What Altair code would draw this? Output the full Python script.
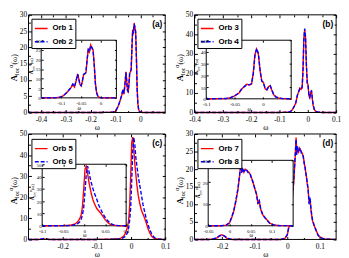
import altair as alt
import pandas as pd

# ---------------- data ----------------
X_A = [-0.45, -0.3, -0.15, -0.11, -0.1, -0.095, -0.09, -0.085, -0.08, -0.075, -0.07, -0.066,
       -0.062, -0.058, -0.055, -0.052, -0.049, -0.046, -0.043, -0.04, -0.037, -0.034, -0.031,
       -0.028, -0.025, -0.022, -0.019, -0.016, -0.013, -0.01, -0.007, -0.004, 0.0, 0.01, 0.04, 0.1]
ORB1 = [0, 0, 0, 0.1, 0.4, 1.0, 1.8, 2.8, 4.0, 5.2, 7.0, 5.6, 8.5, 12.5, 10.0, 7.0, 6.2, 8.5,
        12.0, 12.5, 13.0, 19.5, 25.5, 24.0, 27.5, 26.0, 25.0, 17.5, 7.5, 2.8, 1.0, 0.3, 0.1, 0, 0, 0]
ORB2 = [0, 0, 0, 0.1, 0.5, 1.1, 1.9, 2.9, 4.1, 5.4, 7.2, 5.9, 8.8, 12.3, 9.7, 6.8, 6.4, 8.8,
        12.2, 12.6, 13.3, 20.0, 25.2, 24.4, 27.2, 26.3, 24.6, 17.0, 7.2, 2.6, 0.9, 0.3, 0.1, 0, 0, 0]

X_B = [-0.4, -0.2, -0.1, -0.065, -0.058, -0.052, -0.047, -0.042, -0.037, -0.032, -0.028, -0.024,
       -0.02, -0.017, -0.014, -0.011, -0.008, -0.005, -0.002, 0.001, 0.004, 0.007, 0.01, 0.013,
       0.016, 0.019, 0.023, 0.028, 0.035, 0.05, 0.07, 0.1]
ORB3 = [0, 0, 0, 0.2, 0.8, 2.0, 3.5, 5.0, 8.5, 11.0, 12.5, 11.8, 12.5, 22.0, 38.0, 42.5, 38.0,
        24.0, 15.5, 14.0, 8.5, 7.5, 10.5, 11.0, 7.0, 3.5, 1.5, 0.6, 0.2, 0, 0, 0]
ORB4 = [0, 0, 0, 0.3, 0.9, 2.2, 3.3, 5.3, 8.8, 10.6, 12.2, 12.0, 13.0, 21.0, 37.0, 43.0, 39.0,
        25.0, 15.0, 13.6, 8.8, 7.8, 10.0, 11.3, 7.4, 3.8, 1.6, 0.7, 0.2, 0, 0, 0]

X_C = [-0.3, -0.27, -0.255, -0.24, -0.2, -0.1, -0.04, -0.03, -0.022, -0.016, -0.011, -0.007,
       -0.004, -0.001, 0.002, 0.005, 0.008, 0.011, 0.014, 0.017, 0.021, 0.025, 0.03, 0.035,
       0.04, 0.045, 0.05, 0.055, 0.06, 0.065, 0.07, 0.08, 0.1]
ORB5 = [0, 0, 0.2, 0, 0, 0, 0.2, 0.6, 1.5, 3.0, 5.5, 9.0, 16.0, 30.0, 46.0, 48.5, 43.0, 36.0,
        31.0, 26.0, 21.0, 17.5, 14.0, 12.0, 10.0, 7.5, 5.0, 3.0, 1.6, 0.8, 0.4, 0.1, 0]
ORB6 = [0, 0, 0.5, 0, 0, 0, 0.1, 0.3, 0.8, 1.6, 3.0, 5.5, 9.0, 15.0, 28.0, 42.0, 48.5, 45.0,
        39.0, 35.0, 30.0, 26.0, 21.5, 16.5, 13.0, 9.5, 6.8, 4.5, 2.8, 1.5, 0.7, 0.2, 0]

X_D = [-0.285, -0.24, -0.225, -0.215, -0.208, -0.2, -0.193, -0.185, -0.17, -0.1, -0.05, -0.02,
       -0.008, 0.0, 0.005, 0.01, 0.015, 0.02, 0.024, 0.027, 0.029, 0.031, 0.034, 0.037, 0.04,
       0.043, 0.046, 0.049, 0.052, 0.055, 0.058, 0.061, 0.064, 0.067, 0.07, 0.073, 0.077, 0.082,
       0.088, 0.095, 0.105, 0.115, 0.15]
ORB7 = [0, 0, 0.1, 0.5, 1.1, 1.3, 0.9, 0.3, 0, 0, 0, 0, 0.2, 1.2, 3.5, 6.5, 11.0, 16.5, 23.0,
        29.0, 25.0, 26.0, 24.5, 26.0, 25.5, 25.0, 24.5, 23.5, 22.0, 20.0, 18.5, 16.0, 14.5, 10.5,
        11.5, 8.0, 5.5, 4.0, 2.8, 1.2, 0.4, 0.1, 0]
ORB8 = [0, 0, 0.2, 0.6, 1.0, 1.2, 1.0, 0.4, 0, 0, 0, 0, 0.3, 1.4, 3.8, 6.8, 11.5, 17.0, 23.5,
        28.5, 24.0, 26.5, 25.0, 25.5, 26.0, 24.6, 24.0, 23.8, 21.5, 20.5, 18.0, 16.5, 14.0, 10.0,
        12.0, 8.5, 5.8, 4.2, 2.6, 1.1, 0.4, 0.1, 0]

PANEL_X = [X_A, X_B, X_C, X_D]
PANEL_Y = [[ORB1, ORB2], [ORB3, ORB4], [ORB5, ORB6], [ORB7, ORB8]]
ORB_NAMES = [["Orb 1", "Orb 2"], ["Orb 3", "Orb 4"], ["Orb 5", "Orb 6"], ["Orb 7", "Orb 8"]]
PANEL_LABELS = ["(a)", "(b)", "(c)", "(d)"]

MAIN_XDOM = [[-0.45, 0.1], [-0.4, 0.1], [-0.3, 0.1], [-0.285, 0.15]]
MAIN_YDOM = [[0, 30], [0, 50], [0, 50], [0, 30]]
MAIN_XTICKS = [[-0.4, -0.3, -0.2, -0.1, 0], [-0.4, -0.3, -0.2, -0.1, 0, 0.1],
               [-0.2, -0.1, 0, 0.1], [-0.2, -0.1, 0, 0.1]]
MAIN_YTICKS = [[0, 5, 10, 15, 20, 25, 30], [0, 10, 20, 30, 40, 50],
               [0, 10, 20, 30, 40, 50], [0, 5, 10, 15, 20, 25, 30]]
MINOR_XTICKS = [[-0.45, -0.35, -0.25, -0.15, -0.05, 0.05],
                [-0.35, -0.25, -0.15, -0.05, 0.05],
                [-0.25, -0.15, -0.05, 0.05],
                [-0.25, -0.15, -0.05, 0.05]]
MINOR_YTICKS = [[2.5, 7.5, 12.5, 17.5, 22.5, 27.5], [5, 15, 25, 35, 45],
                [5, 15, 25, 35, 45], [2.5, 7.5, 12.5, 17.5, 22.5, 27.5]]
INSET_XDOM = [[-0.15, 0.04], [-0.1, 0.05], [-0.1, 0.1], [-0.05, 0.15]]
INSET_YDOM = [[0, 30], [0, 50], [0, 50], [0, 30]]
INSET_XTICKS = [[-0.1, -0.05, 0], [-0.1, -0.05, 0], [-0.1, -0.05, 0, 0.05, 0.1],
                [-0.05, 0, 0.05, 0.1]]
INSET_YTICKS = [[0, 5, 10, 15, 20, 25, 30], [0, 10, 20, 30, 40, 50],
                [0, 10, 20, 30, 40, 50], [0, 10, 20, 30]]

# ---------------- layout (pixels inside the view) ----------------
W, H = 341, 250
MAIN_BOX = [(21, 161, 4, 104), (191, 336, 4, 104), (21, 161, 126, 234), (191, 336, 126, 234)]
INSET_BOX = [(34, 111, 30, 89), (203, 290, 30, 90), (35, 121, 157, 220), (205, 292, 153, 220)]
LEGEND_POS = [(24, 8), (194, 8), (24, 131), (194, 131)]
T, TM, TI = 3, 2, 2
SERIF, SANS = "Liberation Serif", "Liberation Sans"
LBL = "'' + round(datum.value*100)/100"
ONE = pd.DataFrame({"k": [0]})


def panel_df(i):
    rows = []
    for name, ys in zip(ORB_NAMES[i], PANEL_Y[i]):
        for x, y in zip(PANEL_X[i], ys):
            rows.append({"orb": name, "x": x, "y": y})
    return pd.DataFrame(rows)


def text_layer(s, x, y, size, weight="normal", font=SERIF, angle=0, align="left"):
    kw = dict(text=s, font=font, fontSize=size, fontWeight=weight, align=align,
              baseline="alphabetic", color="black")
    if angle:
        kw["angle"] = angle
    return alt.Chart(ONE).mark_text(**kw).encode(x=alt.value(x), y=alt.value(y))


def ytitle(xb, yc, s):
    pieces = [("A", 9 * s, "bold", 0.722, 0.0), ("loc", 6 * s, "normal", 1.222, 2.5 * s),
              ("α", 6 * s, "normal", 0.55, -3.5 * s), ("(ω)", 8 * s, "normal", 1.36, 0.0)]
    total = sum(fs * w for _, fs, _, w, _ in pieces)
    y = yc + total / 2
    out = []
    for t, fs, wt, w, sh in pieces:
        out.append(text_layer(t, xb + sh, y, fs, wt, angle=270))
        y -= fs * w
    return out


def rect(x0, x1, y0, y1, filled):
    if filled:
        m = alt.Chart(ONE).mark_rect(fill="white", stroke="black", strokeWidth=1)
    else:
        m = alt.Chart(ONE).mark_rect(filled=False, stroke="black", strokeWidth=1)
    return m.encode(x=alt.value(x0), x2=alt.value(x1), y=alt.value(y0), y2=alt.value(y1))


def xscale(dom, x0, x1):
    return alt.Scale(domain=dom, range=[x0, x1], nice=False, zero=False)


def yscale(dom, y0, y1):
    return alt.Scale(domain=dom, range=[y1, y0], nice=False, zero=False)


def lines(df, i, xs, ys, xaxis, yaxis, legend):
    names = ORB_NAMES[i]
    return alt.Chart(df).mark_line(strokeWidth=1.4).encode(
        x=alt.X("x:Q", scale=xs, axis=xaxis),
        y=alt.Y("y:Q", scale=ys, axis=yaxis),
        color=alt.Color("orb:N", scale=alt.Scale(domain=names, range=["#ff0000", "#0000ff"]),
                        legend=legend),
        strokeDash=alt.StrokeDash("orb:N", scale=alt.Scale(domain=names, range=[[1, 0], [4, 2]]),
                                  legend=legend),
    )


def tick_axis(orient, off, values, size):
    return alt.Axis(orient=orient, offset=off, values=values, labels=False, tickSize=size,
                    domain=False, grid=False, title=None, tickColor="black", zindex=1)


def tick_layer(df, xs, ys, xv, yv, xo, xoff, yo, yoff, size):
    return alt.Chart(df).mark_point(opacity=0, size=1).encode(
        x=alt.X("x:Q", scale=xs, axis=tick_axis(xo, xoff, xv, size)),
        y=alt.Y("y:Q", scale=ys, axis=tick_axis(yo, yoff, yv, size)),
    )


layers = []
for i in range(4):
    x0, x1, y0, y1 = MAIN_BOX[i]
    ix0, ix1, iy0, iy1 = INSET_BOX[i]
    df = panel_df(i)
    xs, ys = xscale(MAIN_XDOM[i], x0, x1), yscale(MAIN_YDOM[i], y0, y1)
    lx, ly = LEGEND_POS[i]
    legend = alt.Legend(orient="none", legendX=lx, legendY=ly, title=None, symbolType="stroke",
                        symbolSize=170, symbolStrokeWidth=1.5, labelFont=SANS, labelFontSize=8,
                        labelFontWeight="bold", labelColor="black", fillColor="white",
                        strokeColor="black", padding=2.5, rowPadding=1.5, labelOffset=4,
                        cornerRadius=0)
    xaxis = alt.Axis(orient="bottom", offset=y1 - T - H, values=MAIN_XTICKS[i], labelExpr=LBL,
                     tickSize=T, domain=False, grid=False, labelFont=SERIF, labelFontSize=7.5,
                     labelColor="black", labelPadding=3, labelFlush=False, tickColor="black",
                     title="ω", titleFont=SERIF, titleFontSize=8, titleFontWeight="normal",
                     titleColor="black", titlePadding=1, zindex=1)
    yaxis = alt.Axis(orient="left", offset=-(x0 + T), values=MAIN_YTICKS[i], format="d",
                     tickSize=T, domain=False, grid=False, labelFont=SERIF, labelFontSize=7.5,
                     labelColor="black", labelPadding=2, tickColor="black", title=None, zindex=1)
    layers.append(lines(df, i, xs, ys, xaxis, yaxis, legend))
    # major ticks on top/right, minor ticks on all four sides (pointing inwards)
    layers.append(tick_layer(df, xs, ys, MAIN_XTICKS[i], MAIN_YTICKS[i],
                             "top", -(y0 + T), "right", x1 - T - W, T))
    layers.append(tick_layer(df, xs, ys, MINOR_XTICKS[i], MINOR_YTICKS[i],
                             "bottom", y1 - TM - H, "left", -(x0 + TM), TM))
    layers.append(tick_layer(df, xs, ys, MINOR_XTICKS[i], MINOR_YTICKS[i],
                             "top", -(y0 + TM), "right", x1 - TM - W, TM))
    layers.append(rect(x0, x1, y0, y1, False))

    # inset
    lo, hi = INSET_XDOM[i]
    idf = df[(df["x"] >= lo - 1e-9) & (df["x"] <= hi + 1e-9)]
    ixs, iys = xscale(INSET_XDOM[i], ix0, ix1), yscale(INSET_YDOM[i], iy0, iy1)
    ixaxis = alt.Axis(orient="bottom", offset=iy1 - TI - H, values=INSET_XTICKS[i], labelExpr=LBL,
                      tickSize=TI, domain=False, grid=False, labelFont=SERIF, labelFontSize=5,
                      labelColor="black", labelPadding=2.5, labelFlush=False, tickColor="black",
                      title="ω", titleFont=SERIF, titleFontSize=5.5, titleFontWeight="normal",
                      titleColor="black", titlePadding=0, zindex=1)
    iyaxis = alt.Axis(orient="left", offset=-(ix0 + TI), values=INSET_YTICKS[i], format="d",
                      tickSize=TI, domain=False, grid=False, labelFont=SERIF, labelFontSize=5,
                      labelColor="black", labelPadding=1, tickColor="black", title=None, zindex=1)
    layers.append(rect(ix0, ix1, iy0, iy1, True))
    layers.append(lines(idf, i, ixs, iys, ixaxis, iyaxis, None))
    layers.append(tick_layer(idf, ixs, iys, INSET_XTICKS[i], INSET_YTICKS[i],
                             "top", -(iy0 + TI), "right", ix1 - TI - W, TI))

    layers.append(text_layer(PANEL_LABELS[i], x1 - 3, y0 + 12, 8.5, "bold", SANS, align="right"))
    layers += ytitle(x0 - 12, (y0 + y1) / 2 + 4, 1.0)
    layers += ytitle(ix0 - 8, (iy0 + iy1) / 2 - 3, 0.6)

chart = alt.layer(*layers).resolve_scale(
    x="independent", y="independent", color="independent", strokeDash="independent"
).properties(
    width=W, height=H, autosize=alt.AutoSizeParams(type="none"), padding=0
).configure_view(stroke=None)

chart.save("out.html", embed_options={"renderer": "svg", "actions": False})
